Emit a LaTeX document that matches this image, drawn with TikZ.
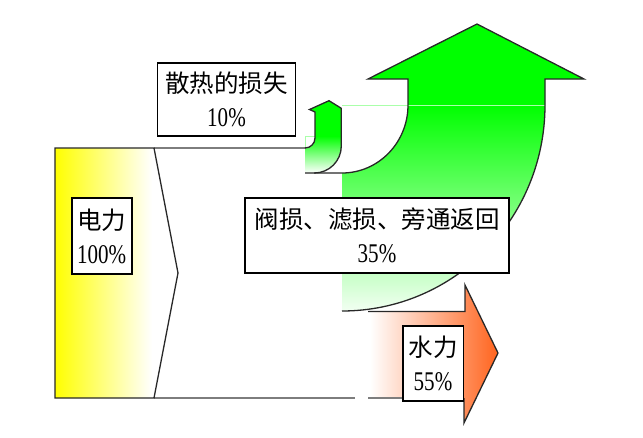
\documentclass[tikz,border=0pt]{standalone}
\usepackage{fontspec}
\usepackage{graphicx}
\newfontfamily\cjk{Noto Sans CJK SC}
\newfontfamily\numfont{Liberation Serif}
\definecolor{arrgreen}{RGB}{0,255,0}
\definecolor{midgreen}{RGB}{185,255,185}
\definecolor{palegreen}{RGB}{242,255,242}
\definecolor{faintgreen}{RGB}{170,255,170}
\definecolor{orng}{RGB}{255,100,30}
\definecolor{linegray}{RGB}{125,125,125}
\definecolor{edgecol}{RGB}{40,40,40}
\newcommand{\pctx}[1]{{\numfont\fontsize{27}{34}\selectfont\scalebox{0.78}[1]{#1}}}
\begin{document}
\begin{tikzpicture}[x=1pt,y=-1pt,
  lbl/.style={draw=black, line width=1.6pt, fill=white, inner sep=0pt, align=center,
              font={\fontsize{24.5}{34}\selectfont}},
  outl/.style={draw=edgecol, line width=1.3pt, line join=miter},
  flowline/.style={draw=linegray, line width=2pt},
  faint/.style={draw=faintgreen, line width=0.8pt}]
\useasboundingbox (0,0) rectangle (643,437);

% ---------- input (electric power) ----------
\begin{scope}
  \clip (55,148) -- (154,148) -- (178,273) -- (154,398) -- (55,398) -- cycle;
  \fill[white] (55,140) rectangle (180,400);
  \shade[left color=yellow, right color=white] (55,140) rectangle (152,400);
\end{scope}

% ---------- big green arrow (35%) fill ----------
\begin{scope}
  \clip (342,173) arc[start angle=90,end angle=0,x radius=66,y radius=68]
        -- (408,79) -- (368,79) -- (477,24) -- (584,79) -- (545,79) -- (545,105)
        arc[start angle=0,end angle=90,x radius=203,y radius=206] -- cycle;
  \fill[arrgreen] (340,20) rectangle (590,105);
  \shade[top color=arrgreen, middle color=midgreen, bottom color=palegreen] (340,105) rectangle (590,311);
\end{scope}

% ---------- small green arrow (10%) fill ----------
\begin{scope}
  \clip (305,148) arc[start angle=90,end angle=0,radius=10]
        -- (315,112) -- (309.5,109.5) -- (329,100.7) -- (341.3,108.3) -- (341.3,146)
        arc[start angle=0,end angle=90,radius=27] -- (305,173) -- cycle;
  \fill[arrgreen] (300,95) rectangle (345,136);
  \shade[top color=arrgreen, bottom color=white] (300,136) rectangle (345,173);
\end{scope}

% ---------- orange arrow (55%) fill ----------
\begin{scope}
  \clip (342,311.5) -- (465,311.5) -- (465,285) -- (498,353) -- (464,423) -- (464,398) -- (342,398) -- cycle;
  \shade[left color=white, right color=orng] (370,280) rectangle (498,425);
\end{scope}

% faint gradient box edges
\draw[faint] (342,105) -- (545,105);
\draw[faint] (305,148) -- (305,136) -- (315,136);

% ---------- flow lines ----------
\draw[flowline] (154,148) -- (306,148);
\draw[flowline] (154,398) -- (355,398);
\draw[flowline] (368,398) -- (403,398);

% ---------- outlines ----------
\draw[outl] (55,148) -- (154,148) -- (178,273) -- (154,398) -- (55,398) -- cycle;
\draw[outl] (305,148) arc[start angle=90,end angle=0,radius=10]
        -- (315,112) -- (309.5,109.5) -- (329,100.7) -- (341.3,108.3) -- (341.3,146)
        arc[start angle=0,end angle=90,radius=27] -- (305,173);
\draw[outl] (314,173) -- (342,173) arc[start angle=90,end angle=0,x radius=66,y radius=68]
        -- (408,79) -- (368,79) -- (477,24) -- (584,79) -- (545,79) -- (545,105)
        arc[start angle=0,end angle=90,x radius=203,y radius=206];
\draw[outl] (368,311.5) -- (465,311.5) -- (465,285) -- (498,353) -- (464,423) -- (464,398);

% ---------- labels ----------
\node[lbl, minimum width=138pt, minimum height=73pt] (loss) at (226.5,99.7)
  {{\cjk 散热的损失}\\\pctx{10\%}};
\node[lbl, minimum width=60pt, minimum height=76pt] (elec) at (101.7,236)
  {{\cjk 电力}\\\pctx{100\%}};
\node[lbl, minimum width=264pt, minimum height=75pt] (valve) at (377,235.5)
  {{\cjk 阀损、滤损、旁通返回}\\\pctx{35\%}};
\node[lbl, minimum width=60.6pt, minimum height=75pt] (water) at (433,363.2)
  {{\cjk 水力}\\\pctx{55\%}};
\end{tikzpicture}
\end{document}
